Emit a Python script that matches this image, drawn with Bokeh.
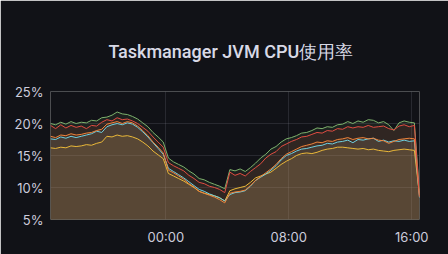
import pandas as pd
from bokeh.plotting import figure
from bokeh.models import Range1d, FixedTicker, DatetimeTickFormatter, PrintfTickFormatter, Title
from bokeh.embed import file_html
from bokeh.resources import INLINE

# 20-minute samples from 16:30 to 16:30 next day
start_time = "2023-01-01 16:30"
n_points = 73

green = [20.0, 19.8, 20.2, 19.9, 20.3, 20.0, 20.2, 20.1, 20.5, 20.4, 20.9, 21.0, 21.3, 21.8, 21.5, 21.4, 21.1, 20.7, 20.1, 19.5,
         18.6, 17.9, 17.1, 14.6, 14.0, 13.6, 13.2, 12.6, 12.1, 11.4, 11.2, 10.8, 10.5, 10.2, 9.8, 12.8, 12.6, 12.9, 12.5, 13.1,
         13.8, 14.6, 15.2, 16.0, 16.4, 17.1, 17.6, 17.8, 18.1, 18.5, 18.6, 18.9, 19.3, 19.2, 19.5, 19.4, 19.8, 19.9, 20.3, 20.0,
         20.4, 20.2, 20.6, 20.5, 20.1, 20.3, 19.8, 18.9, 20.1, 20.4, 20.2, 20.1, 9.2]
yellow = [16.2, 16.1, 16.3, 16.2, 16.5, 16.4, 16.5, 16.7, 16.6, 16.9, 17.1, 18.0, 17.9, 18.2, 18.0, 18.1, 17.9, 17.6, 17.1, 16.5,
          15.7, 15.1, 14.5, 12.2, 11.8, 11.4, 11.0, 10.5, 10.0, 9.4, 9.1, 8.9, 8.7, 8.4, 7.9, 9.5, 9.8, 10.0, 10.2, 10.8,
          11.5, 11.8, 12.1, 12.4, 13.0, 13.6, 14.1, 14.5, 15.0, 15.3, 15.4, 15.3, 15.5, 15.8, 16.0, 16.1, 16.3, 16.3, 16.2, 16.1,
          16.0, 16.1, 15.9, 16.0, 15.8, 15.7, 15.6, 15.8, 15.9, 16.0, 15.9, 15.8, 8.8]
cyan = [17.6, 17.5, 17.9, 17.7, 18.0, 17.8, 18.0, 18.2, 18.4, 18.8, 18.6, 19.5, 19.8, 20.0, 19.8, 20.1, 19.9, 19.4, 18.7, 17.9,
        17.0, 16.1, 15.2, 13.0, 12.5, 12.0, 11.5, 10.9, 10.3, 9.7, 9.4, 9.0, 8.7, 8.4, 7.9, 8.9, 9.2, 9.3, 9.5, 10.2,
        11.1, 11.6, 12.1, 12.7, 13.4, 14.3, 15.0, 15.3, 15.7, 16.0, 16.1, 16.3, 16.5, 16.6, 16.9, 16.8, 17.1, 17.2, 17.4, 17.0,
        17.5, 17.4, 17.6, 17.7, 17.2, 17.4, 17.1, 17.3, 17.2, 17.4, 17.2, 17.3, 8.4]
orange = [18.0, 17.8, 18.2, 18.1, 18.4, 18.2, 18.3, 18.5, 18.6, 18.9, 19.1, 19.9, 20.1, 20.3, 20.0, 20.3, 20.1, 19.6, 18.9, 18.1,
          17.1, 16.3, 15.4, 12.7, 12.3, 11.8, 11.3, 10.6, 10.1, 9.4, 9.1, 8.8, 8.5, 8.1, 7.6, 9.1, 9.3, 9.4, 9.6, 10.3,
          11.1, 11.7, 12.3, 12.9, 13.6, 14.5, 15.2, 15.6, 16.0, 16.4, 16.6, 16.8, 17.1, 17.0, 17.3, 17.2, 17.5, 17.6, 17.8, 17.5,
          17.7, 17.8, 17.6, 17.7, 17.4, 17.3, 16.9, 17.2, 17.5, 17.6, 17.7, 17.6, 8.5]
red = [19.7, 19.2, 19.8, 19.3, 19.7, 19.4, 19.6, 19.2, 19.7, 19.6, 20.2, 20.6, 20.4, 20.9, 20.6, 20.7, 20.4, 20.0, 19.4, 18.8,
       17.9, 17.1, 16.3, 13.9, 13.4, 13.0, 12.6, 11.9, 11.4, 10.8, 10.6, 10.2, 10.0, 9.7, 9.2, 12.4, 11.9, 12.2, 11.8, 12.5,
       13.1, 13.7, 14.6, 15.2, 15.6, 16.4, 16.8, 17.2, 17.5, 17.9, 18.0, 18.3, 18.6, 18.5, 18.9, 18.8, 19.2, 19.1, 19.5, 19.3,
       19.5, 19.4, 19.7, 19.4, 19.5, 19.6, 19.2, 19.0, 19.6, 19.8, 19.5, 19.7, 8.6]

series = [green, yellow, cyan, orange, red]
colors = ["#7EB26D", "#EAB839", "#6ED0E0", "#EF843C", "#E24D42"]

y_ticks = [5, 10, 15, 20, 25]
x_tick_labels = ["2023-01-02 00:00", "2023-01-02 08:00", "2023-01-02 16:00"]
title_text = "Taskmanager JVM CPU使用率"

times = pd.date_range(start_time, periods=n_points, freq="20min")

BG = "#111217"
TXT = "#ccccdc"

p = figure(width=448, height=254, x_axis_type="datetime", output_backend="svg",
           toolbar_location=None, background_fill_color=BG, border_fill_color=BG,
           x_range=Range1d(times[0], times[-1]), y_range=Range1d(5, 25))
p.outline_line_color = None
p.min_border_left = 50
p.min_border_right = 29
p.min_border_top = 91
p.min_border_bottom = 35

p.title = Title(text=title_text, align="left", text_color="#d8d9e6", text_font="Roboto Medium",
                text_font_size="18px", text_font_style="normal", standoff=60, offset=58)

for s, c in zip(series, colors):
    p.varea(x=times, y1=0, y2=s, fill_color=c, fill_alpha=0.1)
for s, c in zip(series, colors):
    p.line(x=times, y=s, line_color=c, line_width=1)

for ax in (p.xaxis[0], p.yaxis[0]):
    ax.axis_line_color = None
    ax.major_tick_line_color = None
    ax.minor_tick_line_color = None
    ax.major_tick_out = 0
    ax.major_tick_in = 0
    ax.major_label_text_color = TXT
    ax.major_label_text_font = "Inter"
    ax.major_label_text_font_size = "13px"

p.yaxis[0].ticker = FixedTicker(ticks=y_ticks)
p.yaxis[0].formatter = PrintfTickFormatter(format="%d%%")
p.yaxis[0].major_label_standoff = 7

p.xaxis[0].ticker = FixedTicker(ticks=[pd.Timestamp(t).value / 1e6 for t in x_tick_labels])
p.xaxis[0].formatter = DatetimeTickFormatter(hours="%H:%M", days="%H:%M", hourmin="%H:%M",
                                              minutes="%H:%M", months="%H:%M", years="%H:%M")
p.xaxis[0].major_label_standoff = 9

for g in (p.xgrid[0], p.ygrid[0]):
    g.grid_line_color = "#ccccdc"
    g.grid_line_alpha = 0.13

open("out.html", "w").write(file_html(p, INLINE))
